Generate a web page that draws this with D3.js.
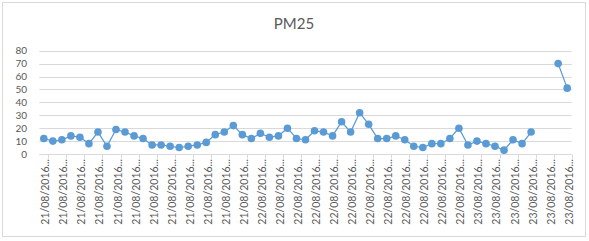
<!DOCTYPE html>
<html>
<head>
<meta charset="utf-8">
<script src="https://cdn.jsdelivr.net/npm/d3@7"></script>
<style>
  html, body { margin: 0; padding: 0; background: #fff; }
  svg { display: block; }
  text { font-family: Lato, "Liberation Sans", sans-serif; fill: #595959; }
</style>
</head>
<body>
<svg id="chart" width="589" height="241"></svg>
<script>
// ---- data ----
const days = ["21/08/2016", "22/08/2016", "23/08/2016"];
const hoursPerDay = [24, 24, 11];
const pm25Values = [
  12, 10, 11, 14, 13, 8, 17, 6, 19, 17, 14, 12,
  7, 7, 6, 5, 6, 7, 9, 15, 17, 22, 15, 12,
  16, 13, 14, 20, 12, 11, 18, 17, 14, 25, 17, 32,
  23, 12, 12, 14, 11, 6, 5, 8, 8, 12, 20, 7,
  10, 8, 6, 3, 11, 8, 17, null, null, 70, 51
];
const yTicks = [0, 10, 20, 30, 40, 50, 60, 70, 80];
const chartTitle = "PM25";

// categories: hourly timestamps
const categories = [];
days.forEach((d, di) => {
  for (let h = 0; h < hoursPerDay[di]; h++) {
    categories.push(d + " " + String(h).padStart(2, "0") + ":00");
  }
});
const data = categories.map((c, i) => ({ cat: c, v: pm25Values[i] }));

// ---- layout ----
const plot = { left: 39.3, right: 571.7, top: 50.7, bottom: 154 };
const svg = d3.select("#chart");

svg.append("rect")
  .attr("x", 2.5).attr("y", 2.5)
  .attr("width", 583).attr("height", 234)
  .attr("fill", "#fff").attr("stroke", "#d9d9d9").attr("stroke-width", 1);

svg.append("text")
  .attr("x", 294).attr("y", 29)
  .attr("text-anchor", "middle")
  .style("font-size", "15px")
  .text(chartTitle);

const x = d3.scaleBand().domain(categories).range([plot.left, plot.right]);
const y = d3.scaleLinear().domain([0, 80]).range([plot.bottom, plot.top]);
const cx = c => x(c) + x.bandwidth() / 2;

// gridlines
svg.append("g").selectAll("line")
  .data(yTicks.filter(t => t > 0))
  .join("line")
  .attr("x1", plot.left).attr("x2", plot.right)
  .attr("y1", d => Math.round(y(d)) + 0.5).attr("y2", d => Math.round(y(d)) + 0.5)
  .attr("stroke", "#d9d9d9").attr("stroke-width", 1);

// y axis labels
const yAxis = d3.axisLeft(y).tickValues(yTicks).tickSize(0).tickPadding(0);
const gy = svg.append("g").attr("transform", `translate(${27},0)`).call(yAxis);
gy.select(".domain").remove();
gy.selectAll("text").style("font-size", "10px").attr("fill", "#595959")
  .style("font-family", "Lato, 'Liberation Sans', sans-serif");

// x axis
const evenCats = categories.filter((c, i) => i % 2 === 0);
const xAxis = d3.axisBottom(x).tickValues(evenCats).tickSize(0)
  .tickFormat(c => c.slice(0, 10) + "...");
const gx = svg.append("g").attr("transform", `translate(0,${Math.round(plot.bottom) + 0.5})`).call(xAxis);
gx.select(".domain").attr("stroke", "#d9d9d9").attr("d", `M${plot.left},0H${plot.right}`);
gx.selectAll(".tick text")
  .style("font-size", "10.5px")
  .style("font-family", "Lato, 'Liberation Sans', sans-serif")
  .attr("fill", "#595959")
  .attr("text-anchor", "end")
  .attr("dominant-baseline", "central")
  .attr("transform", "translate(1.5,4.5) rotate(-90)")
  .attr("x", 0).attr("y", 0).attr("dy", null);
// tick marks between categories
gx.append("g").selectAll("line")
  .data(evenCats)
  .join("line")
  .attr("x1", c => Math.round(x(c) + x.bandwidth()) + 0.5)
  .attr("x2", c => Math.round(x(c) + x.bandwidth()) + 0.5)
  .attr("y1", 0).attr("y2", 4)
  .attr("stroke", "#d9d9d9");

// line
const line = d3.line()
  .defined(d => d.v !== null)
  .x(d => cx(d.cat)).y(d => y(d.v));
svg.append("path")
  .datum(data)
  .attr("d", line)
  .attr("fill", "none")
  .attr("stroke", "#5b9bd5")
  .attr("stroke-width", 1.25);

svg.append("g").selectAll("circle")
  .data(data.filter(d => d.v !== null))
  .join("circle")
  .attr("cx", d => cx(d.cat)).attr("cy", d => y(d.v))
  .attr("r", 3.8)
  .attr("fill", "#5b9bd5");
</script>
</body>
</html>
